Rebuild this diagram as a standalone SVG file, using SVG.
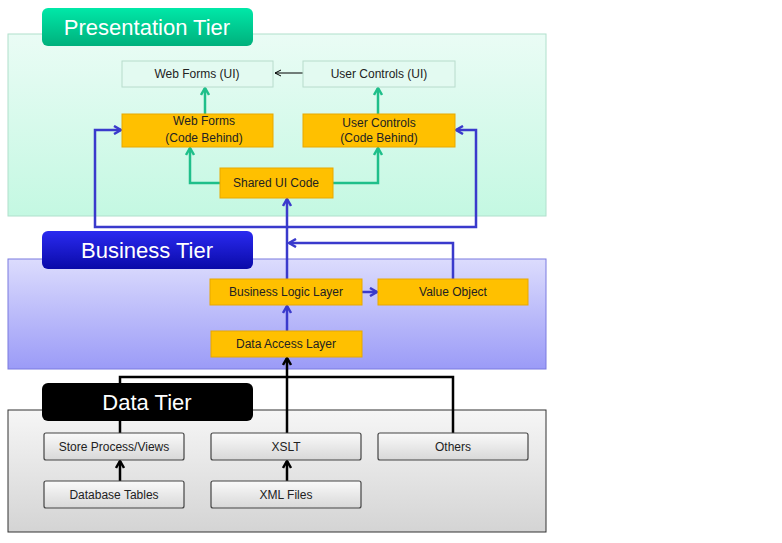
<svg xmlns="http://www.w3.org/2000/svg" width="782" height="543" viewBox="0 0 782 543">
<defs>
<linearGradient id="gp" x1="0" y1="0" x2="0" y2="1"><stop offset="0" stop-color="#eafcf5"/><stop offset="1" stop-color="#c4f8e2"/></linearGradient>
<linearGradient id="gb" x1="0" y1="0" x2="0" y2="1"><stop offset="0" stop-color="#dcdcfd"/><stop offset="1" stop-color="#9b9bf7"/></linearGradient>
<linearGradient id="gd" x1="0" y1="0" x2="0" y2="1"><stop offset="0" stop-color="#f6f6f6"/><stop offset="1" stop-color="#d4d4d4"/></linearGradient>
<linearGradient id="tg" x1="0" y1="0" x2="0" y2="1"><stop offset="0" stop-color="#00e8a8"/><stop offset="1" stop-color="#00b07c"/></linearGradient>
<linearGradient id="tb" x1="0" y1="0" x2="0" y2="1"><stop offset="0" stop-color="#2a2af0"/><stop offset="1" stop-color="#0a0aa8"/></linearGradient>
<linearGradient id="gn" x1="0" y1="0" x2="0" y2="1"><stop offset="0" stop-color="#fafafa"/><stop offset="1" stop-color="#d8d8d8"/></linearGradient>
<marker id="ag" markerWidth="10" markerHeight="10" refX="8" refY="5" orient="auto" markerUnits="userSpaceOnUse"><path d="M1,1 L8,5 L1,9" fill="none" stroke="#1fbf8a" stroke-width="2.5"/></marker>
<marker id="ab" markerWidth="10" markerHeight="10" refX="8" refY="5" orient="auto" markerUnits="userSpaceOnUse"><path d="M1,1 L8,5 L1,9" fill="none" stroke="#3a3acc" stroke-width="2.5"/></marker>
<marker id="ak" markerWidth="10" markerHeight="10" refX="8" refY="5" orient="auto" markerUnits="userSpaceOnUse"><path d="M1,1 L8,5 L1,9" fill="none" stroke="#000" stroke-width="2.5"/></marker>
<marker id="at" markerWidth="10" markerHeight="10" refX="8" refY="5" orient="auto" markerUnits="userSpaceOnUse"><path d="M2,2 L8,5 L2,8" fill="none" stroke="#000" stroke-width="1"/></marker>
</defs>
<style>
text{font-family:"Liberation Sans",Arial,sans-serif;text-anchor:middle;}
.n{font-size:12px;fill:#222;}
.t{font-size:22px;fill:#fff;}
.o{fill:#ffc000;stroke:#e8a800;stroke-width:1;}
.p{fill:#e3faf1;stroke:#b8dccc;stroke-width:1;}
.g{fill:url(#gn);stroke:#444;stroke-width:1.2;}
.cg{fill:none;stroke:#1fbf8a;stroke-width:2.5;}
.cb{fill:none;stroke:#3a3acc;stroke-width:2.5;}
.ck{fill:none;stroke:#000;stroke-width:2.5;}
</style>
<g id="presentation-panel"><rect x="8" y="34" width="538" height="182" fill="url(#gp)" stroke="#b0e0cc"/></g>
<g id="business-panel"><rect x="8" y="259" width="538" height="110" fill="url(#gb)" stroke="#7a7ae0"/></g>
<g id="data-panel"><rect x="8" y="410" width="538" height="122" fill="url(#gd)" stroke="#333"/></g>
<g id="connectors">
<path class="cg" d="M205,114 V88" marker-end="url(#ag)"/>
<path class="cg" d="M378,114 V88" marker-end="url(#ag)"/>
<path class="cg" d="M220,183 H190 V148" marker-end="url(#ag)"/>
<path class="cg" d="M333,183 H378 V148" marker-end="url(#ag)"/>
<path d="M303,73 H275" stroke="#000" stroke-width="1" fill="none" marker-end="url(#at)"/>
<path class="cb" d="M287,227 H95 V130 H121" marker-end="url(#ab)"/>
<path class="cb" d="M287,227 H476 V130 H456" marker-end="url(#ab)"/>
<path class="cb" d="M287,279 V199" marker-end="url(#ab)"/>
<path class="cb" d="M453,279 V243 H289" marker-end="url(#ab)"/>
<path class="cb" d="M362,292 H377" marker-end="url(#ab)"/>
<path class="cb" d="M287,331 V306" marker-end="url(#ab)"/>
<path class="ck" d="M287,433 V358" marker-end="url(#ak)"/>
<path class="ck" d="M120,433 V377 H453 V433"/>
<path class="ck" d="M120,481 V461" marker-end="url(#ak)"/>
<path class="ck" d="M287,481 V461" marker-end="url(#ak)"/>
</g>
<g id="tab-presentation"><rect x="42" y="8" width="211" height="38" rx="6" fill="url(#tg)"/><text class="t" x="147" y="35">Presentation Tier</text></g>
<g id="tab-business"><rect x="42" y="231" width="211" height="38" rx="6" fill="url(#tb)"/><text class="t" x="147" y="258">Business Tier</text></g>
<g id="tab-data"><rect x="42" y="383" width="211" height="38" rx="6" fill="#000"/><text class="t" x="147" y="410">Data Tier</text></g>
<g id="web-forms-ui"><rect class="p" x="122" y="61" width="151" height="26"/><text class="n" x="197" y="78">Web Forms (UI)</text></g>
<g id="user-controls-ui"><rect class="p" x="303" y="61" width="152" height="26"/><text class="n" x="379" y="78">User Controls (UI)</text></g>
<g id="web-forms-cb"><rect class="o" x="122" y="114" width="151" height="33"/><text class="n" x="204" y="125">Web Forms</text><text class="n" x="204" y="142">(Code Behind)</text></g>
<g id="user-controls-cb"><rect class="o" x="303" y="114" width="152" height="33"/><text class="n" x="379" y="127">User Controls</text><text class="n" x="379" y="142">(Code Behind)</text></g>
<g id="shared-ui"><rect class="o" x="220" y="168" width="113" height="30"/><text class="n" x="276" y="187">Shared UI Code</text></g>
<g id="bll"><rect class="o" x="210" y="279" width="152" height="26"/><text class="n" x="286" y="296">Business Logic Layer</text></g>
<g id="value-object"><rect class="o" x="378" y="279" width="150" height="26"/><text class="n" x="453" y="296">Value Object</text></g>
<g id="dal"><rect class="o" x="211" y="331" width="151" height="26"/><text class="n" x="286" y="348">Data Access Layer</text></g>
<g id="store-process"><rect class="g" x="44" y="433" width="140" height="27" rx="2"/><text class="n" x="114" y="451">Store Process/Views</text></g>
<g id="xslt"><rect class="g" x="211" y="433" width="150" height="27" rx="2"/><text class="n" x="286" y="451">XSLT</text></g>
<g id="others"><rect class="g" x="378" y="433" width="150" height="27" rx="2"/><text class="n" x="453" y="451">Others</text></g>
<g id="database-tables"><rect class="g" x="44" y="481" width="140" height="27" rx="2"/><text class="n" x="114" y="499">Database Tables</text></g>
<g id="xml-files"><rect class="g" x="211" y="481" width="150" height="27" rx="2"/><text class="n" x="286" y="499">XML Files</text></g>
</svg>
